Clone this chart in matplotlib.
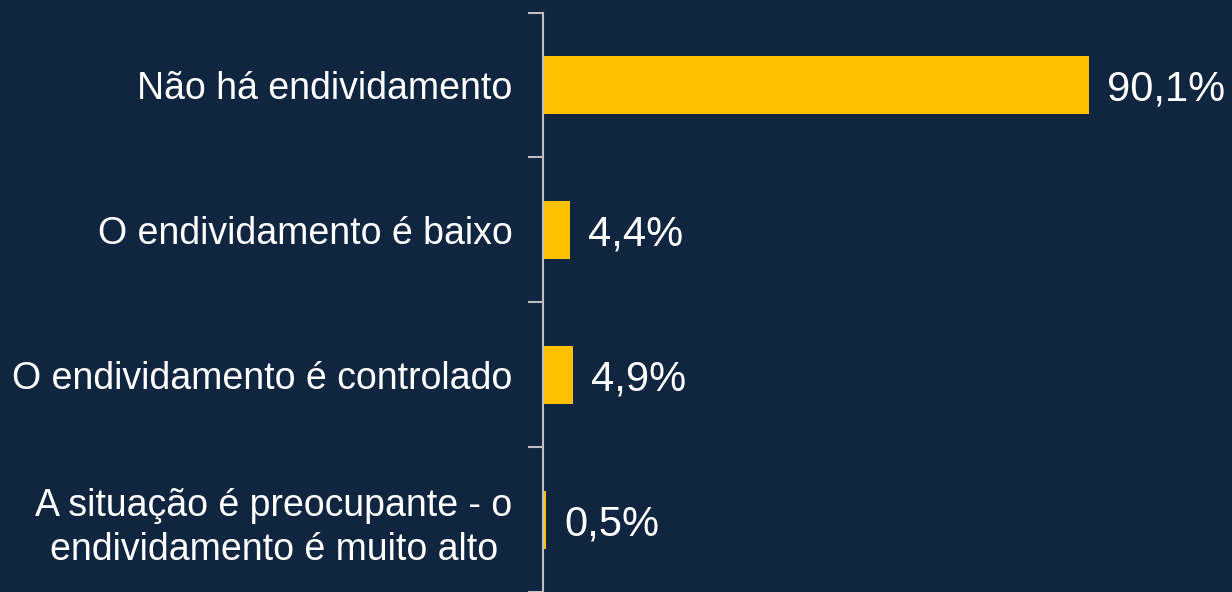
import matplotlib.pyplot as plt

# dados
categorias = ['Não há endividamento', 'O endividamento é baixo',
              'O endividamento é controlado',
              'A situação é preocupante - o\nendividamento é muito alto']
valores = [90.1, 4.4, 4.9, 0.5]
rotulos = ['90,1%', '4,4%', '4,9%', '0,5%']

fundo = '#10253F'
amarelo = '#FFC000'
cinza = '#BFBFBF'

plt.rcParams['font.family'] = ['Liberation Sans', 'DejaVu Sans']

fig = plt.figure(figsize=(12.32, 5.92), dpi=100, facecolor=fundo)
ax = fig.add_axes([543/1232, 0, 689/1232, 1])
ax.set_facecolor(fundo)

pos = range(len(categorias))
ax.barh(pos, valores, height=0.4, color=amarelo)
for p, v, r in zip(pos, valores, rotulos):
    ax.text(v + 3, p, r, va='center_baseline', ha='left', color='white', fontsize=30)

ax.set_xlim(0, 689 / 6.06)
ax.set_ylim(3.452, -0.587)

ax.set_yticks(list(pos))
ax.set_yticklabels(categorias, fontsize=27, color='white')
ax.tick_params(axis='y', length=0, pad=22)
ax.set_yticks([-0.5, 0.5, 1.5, 2.5, 3.5], minor=True)
ax.tick_params(axis='y', which='minor', length=11, color=cinza, width=1.5)
ax.set_xticks([])
for s in ['top', 'right', 'bottom']:
    ax.spines[s].set_visible(False)
ax.spines['left'].set_color(cinza)
ax.spines['left'].set_linewidth(1.5)
ax.spines['left'].set_bounds(-0.5, 3.5)
for t in ax.get_yticklabels():
    t.set_multialignment('center')
    t.set_linespacing(1.3)

fig.savefig('out.png', dpi=100, facecolor=fundo)
